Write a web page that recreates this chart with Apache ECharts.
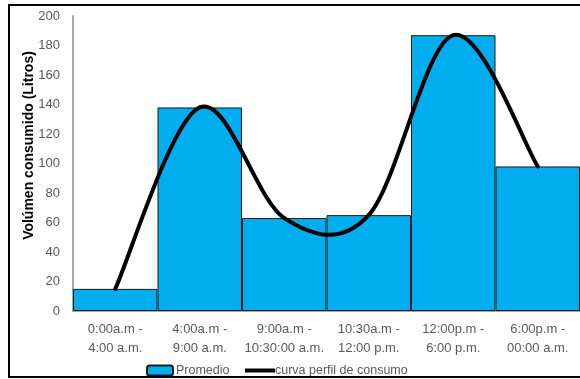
<!DOCTYPE html>
<html><head><meta charset="utf-8">
<script src="https://cdn.jsdelivr.net/npm/echarts@6/dist/echarts.min.js"></script>
<style>html,body{margin:0;padding:0;background:#fff;}#c{width:580px;height:379px;}</style>
</head><body><div id="c"></div>
<script>
const categories = ['0:00a.m -\n4:00 a.m.', '4:00a.m -\n9:00 a.m.', '9:00a.m -\n10:30:00 a.m.', '10:30a.m -\n12:00 p.m.', '12:00p.m -\n6:00 p.m.', '6:00p.m -\n00:00 a.m.'];
const promedio = [15, 138, 63, 65, 187, 98];
const curva = [15, 138, 63, 65, 187, 98];
const yMin = 0, yMax = 200, yStep = 20;

const chart = echarts.init(document.getElementById('c'), null, {renderer: 'canvas'});
const font = 'Liberation Sans, Arial, sans-serif';

// Catmull-Rom style smoothed segment between data points i and i+1 (as in spreadsheet "smoothed line")
function renderCurve(params, api) {
  const i = params.dataIndex;
  const n = curva.length;
  if (i >= n - 1) return null;
  const P = k => api.coord([Math.max(0, Math.min(n - 1, k)), curva[Math.max(0, Math.min(n - 1, k))]]);
  const p0 = P(i - 1), p1 = P(i), p2 = P(i + 1), p3 = P(i + 2);
  const t = 1 / 6;
  return {
    type: 'bezierCurve',
    shape: {
      x1: p1[0], y1: p1[1], x2: p2[0], y2: p2[1],
      cpx1: p1[0] + (p2[0] - p0[0]) * t, cpy1: p1[1] + (p2[1] - p0[1]) * t,
      cpx2: p2[0] - (p3[0] - p1[0]) * t, cpy2: p2[1] - (p3[1] - p1[1]) * t
    },
    style: {stroke: '#000', lineWidth: 4, fill: null, lineCap: 'round'}
  };
}

chart.setOption({
  animation: false,
  backgroundColor: '#fff',
  graphic: [{
    type: 'rect', shape: {x: 9, y: 5, width: 600, height: 372},
    style: {fill: 'none', stroke: '#000', lineWidth: 2}, z: 100
  }],
  grid: {left: 73, right: 0, top: 16, bottom: 68},
  legend: [{
    data: [{name: 'Promedio', icon: 'roundRect'}],
    left: 141, top: 359, itemWidth: 26, itemHeight: 10,
    textStyle: {fontFamily: font, fontSize: 12.5, color: '#595959', padding: [0, 0, 0, -2]}
  }, {
    data: [{name: 'curva perfil de consumo', icon: 'rect', itemStyle: {color: '#000'}}],
    left: 240, top: 359, itemWidth: 30, itemHeight: 4,
    textStyle: {fontFamily: font, fontSize: 12.5, color: '#595959', padding: [0, 0, 0, -5]}
  }],
  xAxis: {
    type: 'category', data: categories,
    axisLine: {lineStyle: {color: '#a6a6a6', width: 2}},
    axisTick: {show: false},
    axisLabel: {fontFamily: font, fontSize: 13, color: '#595959', margin: 9, lineHeight: 19, interval: 0}
  },
  yAxis: {
    type: 'value', min: yMin, max: yMax, interval: yStep,
    name: 'Volúmen consumido (Litros)', nameLocation: 'middle', nameGap: 37,
    nameMoveOverlap: false,
    nameTextStyle: {fontFamily: font, fontSize: 14, fontWeight: 'bold', color: '#000', padding: [0, 0, 0, 36]},
    axisLine: {show: true, lineStyle: {color: '#a6a6a6', width: 2}},
    axisTick: {show: false},
    splitLine: {show: false},
    axisLabel: {fontFamily: font, fontSize: 13, color: '#595959', margin: 13}
  },
  series: [{
    name: 'Promedio', type: 'bar', data: promedio,
    barWidth: '100%', barCategoryGap: 0,
    itemStyle: {color: '#00AEEF', borderColor: '#1a1a1a', borderWidth: 1}
  }, {
    name: 'curva perfil de consumo', type: 'custom', data: curva.map((v, k) => [k, v]),
    renderItem: renderCurve,
    itemStyle: {color: '#000'},
    encode: {x: 0, y: 1},
    z: 3
  }]
});
</script></body></html>
